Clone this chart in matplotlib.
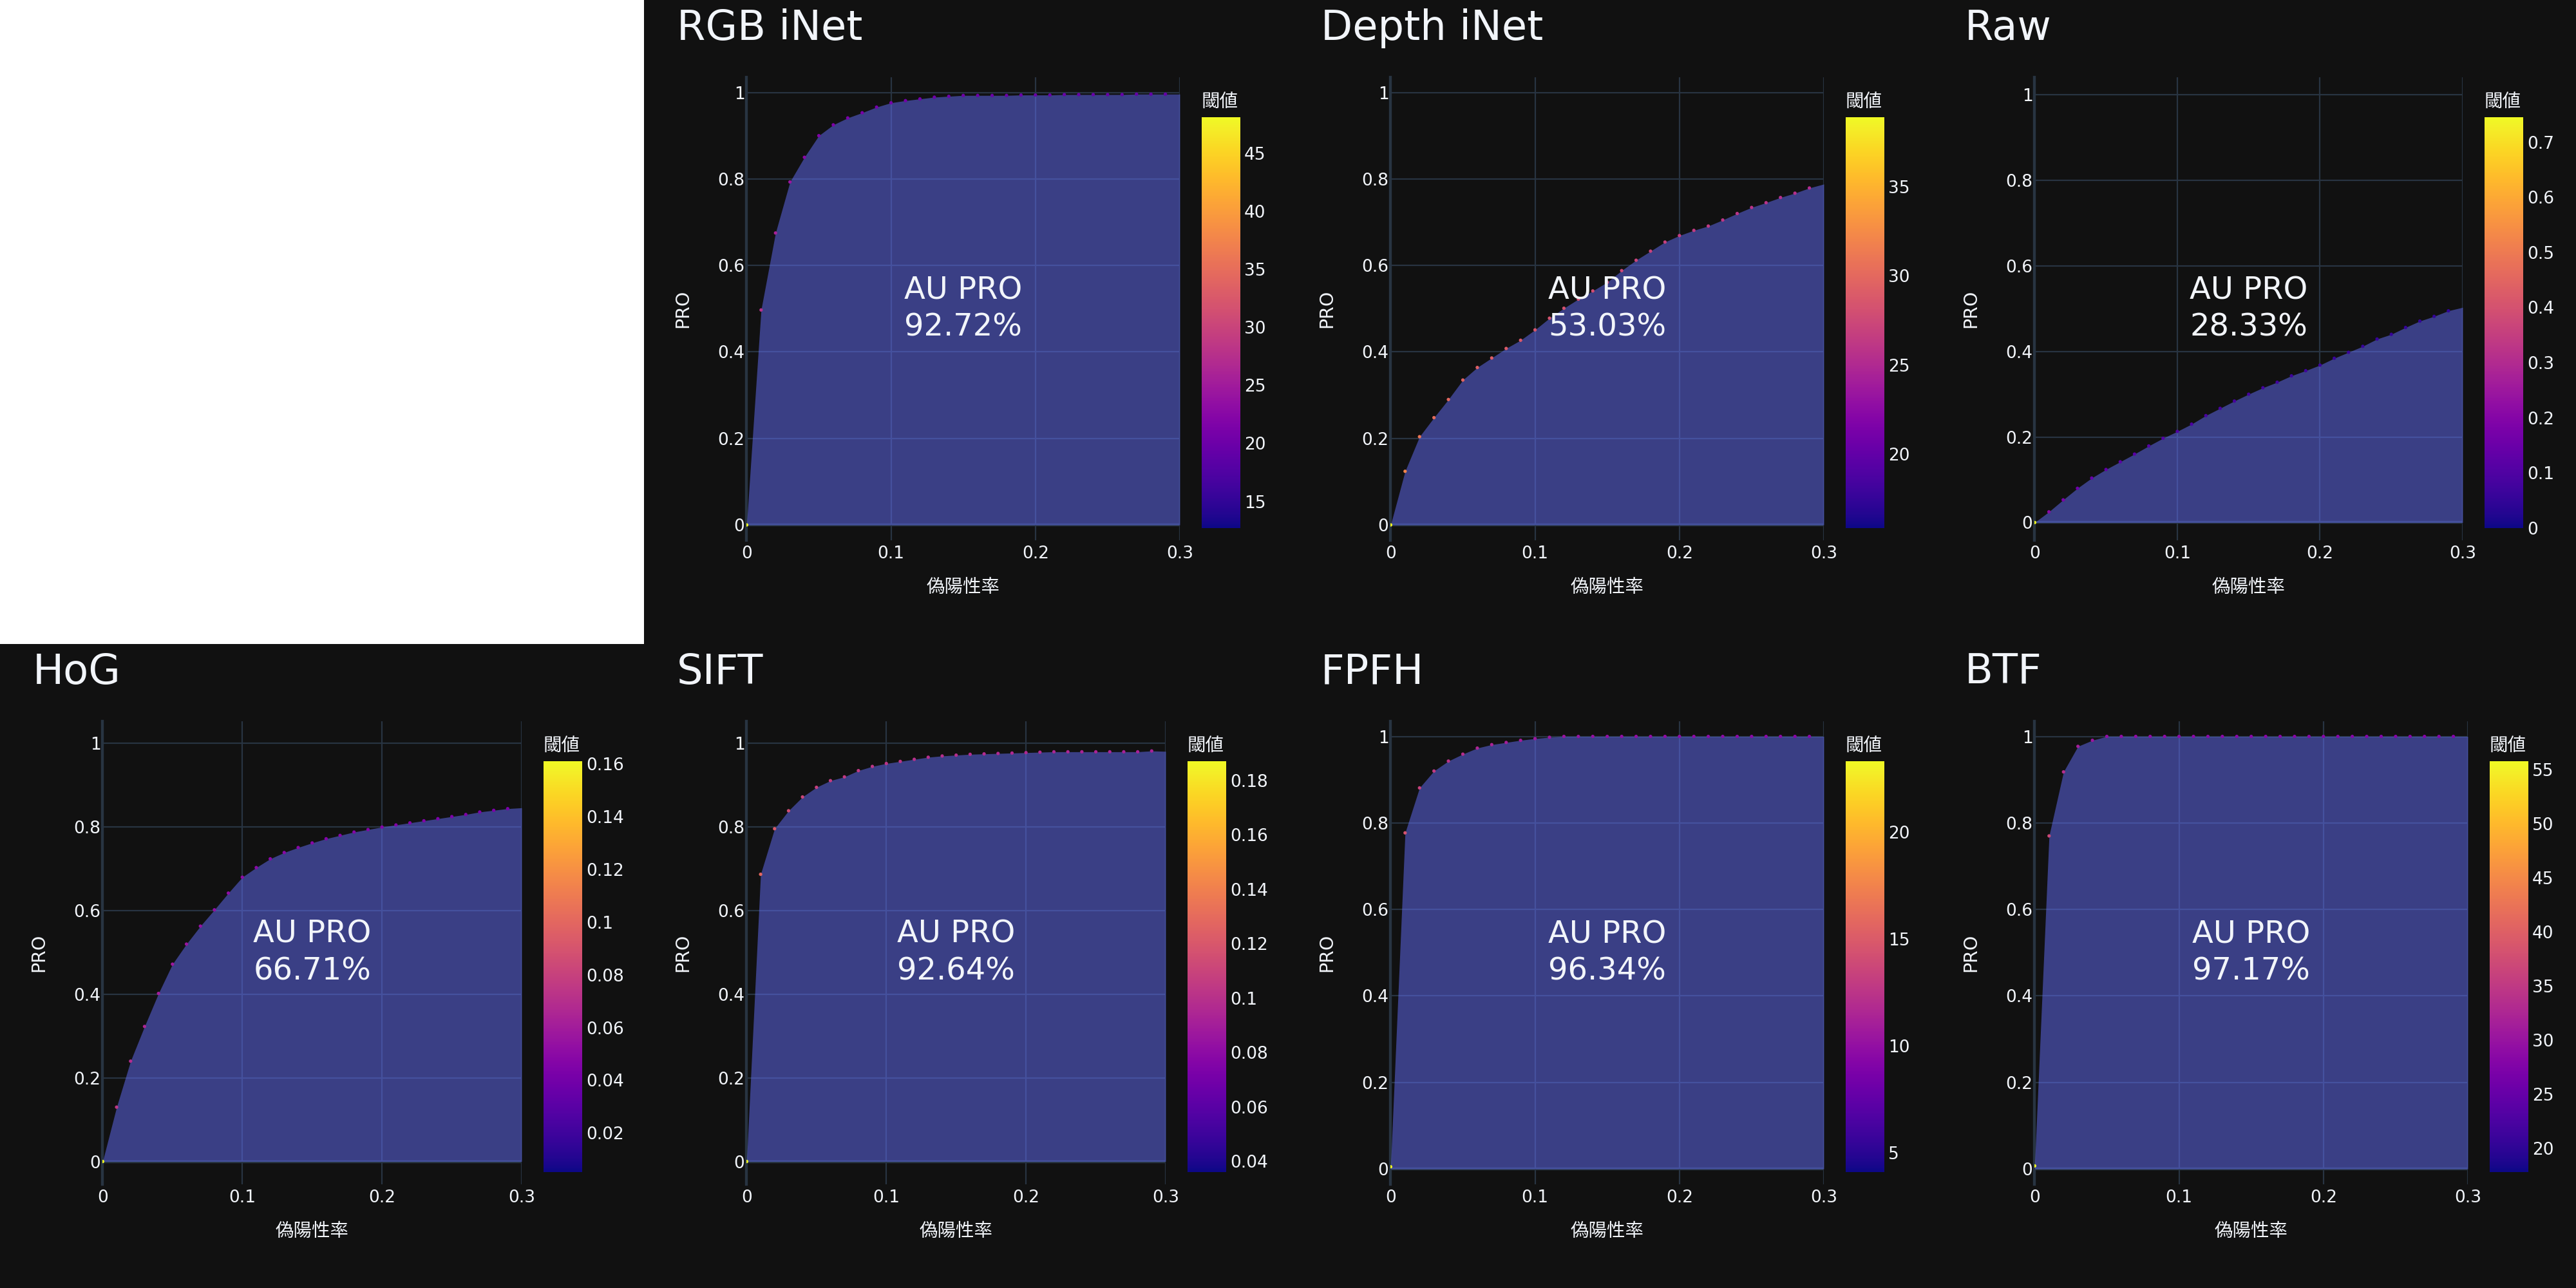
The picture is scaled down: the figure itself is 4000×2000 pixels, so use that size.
import numpy as np
import matplotlib.pyplot as plt
from matplotlib.ticker import FuncFormatter

plt.rcParams['font.family'] = ['DejaVu Sans', 'Noto Sans CJK JP']

# ---- data ----
fpr = [0.00, 0.01, 0.02, 0.03, 0.04, 0.05, 0.06, 0.07, 0.08, 0.09,
       0.10, 0.11, 0.12, 0.13, 0.14, 0.15, 0.16, 0.17, 0.18, 0.19,
       0.20, 0.21, 0.22, 0.23, 0.24, 0.25, 0.26, 0.27, 0.28, 0.29, 0.30]

titles = ["RGB iNet", "Depth iNet", "Raw", "HoG", "SIFT", "FPFH", "BTF"]
au_pro = ["92.72%", "53.03%", "28.33%", "66.71%", "92.64%", "96.34%", "97.17%"]

pro_rgb = [0.0, 0.497, 0.675, 0.793, 0.850, 0.900, 0.925, 0.941, 0.953, 0.966,
           0.976, 0.981, 0.985, 0.989, 0.991, 0.993, 0.993, 0.993, 0.993, 0.994,
           0.994, 0.994, 0.995, 0.995, 0.995, 0.995, 0.995, 0.996, 0.996, 0.996, 0.996]
pro_depth = [0.0, 0.124, 0.204, 0.248, 0.290, 0.335, 0.364, 0.386, 0.408, 0.427,
             0.451, 0.478, 0.501, 0.522, 0.541, 0.561, 0.588, 0.612, 0.633, 0.654,
             0.669, 0.681, 0.691, 0.705, 0.720, 0.734, 0.745, 0.757, 0.767, 0.779, 0.788]
pro_raw = [0.0, 0.025, 0.053, 0.080, 0.104, 0.124, 0.142, 0.160, 0.179, 0.197,
           0.213, 0.230, 0.250, 0.267, 0.284, 0.300, 0.315, 0.328, 0.343, 0.355,
           0.368, 0.384, 0.398, 0.412, 0.429, 0.440, 0.456, 0.471, 0.482, 0.495, 0.503]
pro_hog = [0.0, 0.130, 0.240, 0.323, 0.402, 0.472, 0.520, 0.563, 0.602, 0.642,
           0.680, 0.703, 0.724, 0.739, 0.751, 0.762, 0.772, 0.780, 0.788, 0.794,
           0.800, 0.805, 0.810, 0.815, 0.820, 0.825, 0.830, 0.836, 0.840, 0.844, 0.846]
pro_sift = [0.0, 0.687, 0.796, 0.839, 0.872, 0.895, 0.911, 0.920, 0.935, 0.945,
            0.952, 0.957, 0.962, 0.967, 0.970, 0.972, 0.974, 0.975, 0.976, 0.977,
            0.978, 0.979, 0.980, 0.980, 0.980, 0.980, 0.980, 0.980, 0.980, 0.982, 0.981]
pro_fpfh = [0.005, 0.777, 0.881, 0.920, 0.943, 0.959, 0.973, 0.981, 0.986, 0.991,
            0.995, 0.998, 1.0, 1.0, 1.0, 1.0, 1.0, 1.0, 1.0, 1.0,
            1.0, 1.0, 1.0, 1.0, 1.0, 1.0, 1.0, 1.0, 1.0, 1.0, 1.0]
pro_btf = [0.007, 0.770, 0.918, 0.977, 0.991, 1.0, 1.0, 1.0, 1.0, 1.0,
           1.0, 1.0, 1.0, 1.0, 1.0, 1.0, 1.0, 1.0, 1.0, 1.0,
           1.0, 1.0, 1.0, 1.0, 1.0, 1.0, 1.0, 1.0, 1.0, 1.0, 1.0]

# threshold at each marker (markers shown for fpr 0 .. 0.29)
thr_rgb = [48.1, 27.5, 25.8, 24.4, 22.7, 21.9, 21.5, 21.2, 21.0, 20.8,
           20.7, 20.5, 20.4, 20.3, 20.2, 20.1, 20.0, 19.9, 19.8, 19.8,
           19.7, 19.6, 19.6, 19.5, 19.5, 19.4, 19.4, 19.3, 19.3, 19.2]
thr_depth = [38.9, 32.0, 31.0, 30.3, 29.9, 29.6, 29.4, 29.2, 29.0, 28.8,
             28.6, 28.4, 28.2, 28.0, 27.8, 27.6, 27.4, 27.2, 27.0, 26.8,
             26.6, 26.4, 26.3, 26.1, 26.0, 25.8, 25.7, 25.5, 25.4, 25.3]
thr_raw = [0.745, 0.21, 0.18, 0.16, 0.14, 0.13, 0.12, 0.115, 0.11, 0.105,
           0.10, 0.095, 0.09, 0.087, 0.084, 0.081, 0.078, 0.075, 0.072, 0.069,
           0.066, 0.064, 0.062, 0.060, 0.058, 0.056, 0.054, 0.052, 0.050, 0.048]
thr_hog = [0.161, 0.075, 0.069, 0.065, 0.061, 0.058, 0.056, 0.054, 0.053, 0.052,
           0.051, 0.050, 0.049, 0.049, 0.048, 0.048, 0.047, 0.047, 0.046, 0.046,
           0.046, 0.045, 0.045, 0.045, 0.044, 0.044, 0.044, 0.043, 0.043, 0.043]
thr_sift = [0.187, 0.128, 0.121, 0.115, 0.111, 0.108, 0.106, 0.105, 0.104, 0.103,
            0.102, 0.101, 0.100, 0.099, 0.099, 0.098, 0.097, 0.097, 0.096, 0.096,
            0.095, 0.095, 0.094, 0.094, 0.093, 0.093, 0.093, 0.092, 0.092, 0.092]
thr_fpfh = [23.3, 14.5, 13.4, 12.8, 12.4, 12.0, 11.6, 11.3, 11.0, 10.8,
            10.6, 10.4, 10.3, 10.2, 10.1, 10.0, 9.9, 9.9, 9.8, 9.8,
            9.7, 9.7, 9.6, 9.6, 9.6, 9.5, 9.5, 9.5, 9.4, 9.4]
thr_btf = [55.8, 37.0, 33.5, 31.5, 30.3, 29.5, 29.2, 29.0, 28.9, 28.8,
           28.7, 28.6, 28.5, 28.5, 28.4, 28.4, 28.3, 28.3, 28.2, 28.2,
           28.1, 28.1, 28.1, 28.0, 28.0, 28.0, 27.9, 27.9, 27.9, 27.8]

# colour scale range (threshold min / max)
thr_min = [12.7, 15.85, 0.0, 0.0052, 0.036, 4.1, 17.8]
thr_max = [48.1, 38.9, 0.745, 0.161, 0.187, 23.3, 55.8]

cbar_ticks = [
    [15, 20, 25, 30, 35, 40, 45],
    [20, 25, 30, 35],
    [0, 0.1, 0.2, 0.3, 0.4, 0.5, 0.6, 0.7],
    [0.02, 0.04, 0.06, 0.08, 0.1, 0.12, 0.14, 0.16],
    [0.04, 0.06, 0.08, 0.1, 0.12, 0.14, 0.16, 0.18],
    [5, 10, 15, 20],
    [20, 25, 30, 35, 40, 45, 50, 55],
]

pro_all = [pro_rgb, pro_depth, pro_raw, pro_hog, pro_sift, pro_fpfh, pro_btf]
thr_all = [thr_rgb, thr_depth, thr_raw, thr_hog, thr_sift, thr_fpfh, thr_btf]

# ---- layout (pixels in the 4000x2000 canvas) ----
cells = [(1, 0), (2, 0), (3, 0), (0, 1), (1, 1), (2, 1), (3, 1)]
right_px = [832, 832, 824, 810, 810, 832, 832]
ylims = [(-0.035, 1.035), (-0.035, 1.035), (-0.041, 1.041), (-0.054, 1.053),
         (-0.054, 1.053), (-0.035, 1.035), (-0.035, 1.035)]

BG = '#111111'
GRID = '#283442'
TXT = '#f2f5fa'
W, H = 4000, 2000
PT = 72 / 200  # points per pixel


def rect(x0, y0, x1, y1):
    return [x0 / W, 1 - y1 / H, (x1 - x0) / W, (y1 - y0) / H]


fmt = FuncFormatter(lambda v, pos: f"{v:g}")

fig = plt.figure(figsize=(20, 10), dpi=200, facecolor=BG)

# empty white cell at top-left
fig.add_artist(plt.Rectangle((0, 0.5), 0.25, 0.5, transform=fig.transFigure,
                             facecolor='white', edgecolor='none'))

for i, (c, r) in enumerate(cells):
    cx, cy = c * 1000, r * 1000
    left, top, bottom = cx + 159.4, cy + 120, cy + 838.6
    right = cx + right_px[i]
    ax = fig.add_axes(rect(left, top, right, bottom))
    ax.set_facecolor(BG)

    ax.set_xlim(0, 0.3)
    ax.set_ylim(*ylims[i])
    ax.set_xticks([0, 0.1, 0.2, 0.3])
    ax.set_yticks([0, 0.2, 0.4, 0.6, 0.8, 1.0])
    ax.xaxis.set_major_formatter(fmt)
    ax.yaxis.set_major_formatter(fmt)
    ax.tick_params(length=0, labelsize=26.4 * PT, labelcolor=TXT)
    ax.tick_params(axis='x', pad=8 * PT)
    ax.tick_params(axis='y', pad=3 * PT)
    for s in ax.spines.values():
        s.set_visible(False)
    ax.grid(True, color=GRID, lw=2.2 * PT)
    ax.set_axisbelow(True)
    ax.axhline(0, color=GRID, lw=4.4 * PT, zorder=0.8)
    ax.axvline(0, color=GRID, lw=4.4 * PT, zorder=0.8, clip_on=False)

    pro = pro_all[i]
    ax.fill_between(fpr, 0, pro, color='#636efa', alpha=0.5, lw=0, zorder=1)
    sc = ax.scatter(fpr[:30], pro[:30], c=thr_all[i], cmap='plasma',
                    vmin=thr_min[i], vmax=thr_max[i], s=3.6, lw=0, zorder=3)

    ax.text(0.15, 0.5, "AU PRO\n" + au_pro[i], ha='center', va='center',
            fontsize=48 * PT, color=TXT, zorder=5, linespacing=1.28)

    h_px = bottom - top
    w_px = right - left
    ax.set_xlabel("偽陽性率", fontsize=28.5 * PT, color=TXT)
    ax.xaxis.set_label_coords(0.5, -(912 - 838.6) / h_px)
    ax.xaxis.label.set_va('center')
    ax.set_ylabel("PRO", fontsize=28.5 * PT, color=TXT)
    ax.yaxis.set_label_coords(-(159.4 - 60.6) / w_px, 0.5)
    ax.yaxis.label.set_va('center')

    fig.text((cx + 51) / W, 1 - (cy + 62) / H, titles[i], fontsize=64 * PT,
             color=TXT, ha='left', va='baseline')

    # colour bar
    cb_left = right + 34
    cax = fig.add_axes(rect(cb_left, cy + 182, cb_left + 60, cy + 820))
    cax.set_facecolor(BG)
    cb = fig.colorbar(sc, cax=cax)
    cb.outline.set_visible(False)
    cb.set_ticks(cbar_ticks[i])
    cax.yaxis.set_major_formatter(fmt)
    cax.tick_params(length=0, pad=6 * PT, labelsize=26.4 * PT, labelcolor=TXT)
    fig.text(cb_left / W, 1 - (cy + 167) / H, "閾値", fontsize=28.5 * PT,
             color=TXT, ha='left', va='baseline')

fig.savefig("out.png", dpi=200, facecolor=BG)
